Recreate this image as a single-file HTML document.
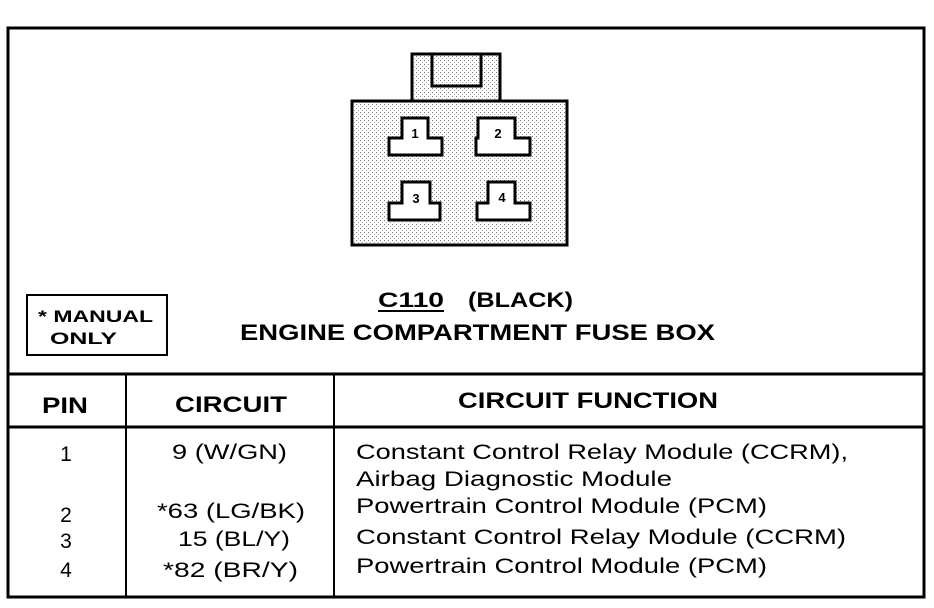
<!DOCTYPE html>
<html><head><meta charset="utf-8"><style>
body{margin:0;background:#fff;}
svg{display:block;}
text{font-family:"Liberation Sans",sans-serif;fill:#000;}
</style></head><body>
<svg width="934" height="608" viewBox="0 0 934 608" xmlns="http://www.w3.org/2000/svg">
<defs>
<pattern id="dots" width="4" height="4" patternUnits="userSpaceOnUse">
<rect width="4" height="4" fill="#fff"/><rect width="1" height="1" fill="#777"/><rect x="2" y="2" width="1" height="1" fill="#aaa"/>
</pattern>
</defs>
<rect x="8" y="28" width="916" height="569" fill="#fff" stroke="#000" stroke-width="3"/>
<rect x="412" y="54" width="88" height="47" fill="url(#dots)" stroke="#000" stroke-width="3"/>
<rect x="432" y="54" width="49" height="32" fill="url(#dots)" stroke="#000" stroke-width="3"/>
<rect x="352" y="101" width="215" height="144" fill="url(#dots)" stroke="#000" stroke-width="3"/>
<g fill="#fff" stroke="#000" stroke-width="3">
<path d="M402 118 H428 V138 H442 V155 H389 V138 H402 Z"/>
<path d="M478 118 H515 V138 H530 V155 H476 V138 H478 Z"/>
<path d="M402 182 H430 V203 H440 V220 H389 V203 H402 Z"/>
<path d="M488 182 H515 V203 H530 V220 H477 V203 H488 Z"/>
</g>
<g font-size="13" font-weight="bold" text-anchor="middle">
<text x="415" y="138">1</text><text x="498" y="138">2</text>
<text x="416" y="203">3</text><text x="502" y="202">4</text>
</g>
<rect x="27" y="295" width="140" height="60" fill="#fff" stroke="#000" stroke-width="2"/>
<text x="38" y="322" font-size="17" font-weight="bold" textLength="115" lengthAdjust="spacingAndGlyphs">* MANUAL</text>
<text x="50" y="344" font-size="17" font-weight="bold" textLength="67" lengthAdjust="spacingAndGlyphs">ONLY</text>
<text x="378" y="307" font-size="21" font-weight="bold" textLength="66" lengthAdjust="spacingAndGlyphs">C110</text>
<text x="468" y="307" font-size="21" font-weight="bold" textLength="105" lengthAdjust="spacingAndGlyphs">(BLACK)</text>
<line x1="378" y1="311" x2="444" y2="311" stroke="#000" stroke-width="2"/>
<text x="240" y="340" font-size="22" font-weight="bold" textLength="475" lengthAdjust="spacingAndGlyphs">ENGINE COMPARTMENT FUSE BOX</text>
<line x1="8" y1="374" x2="924" y2="374" stroke="#000" stroke-width="3"/>
<line x1="8" y1="427" x2="924" y2="427" stroke="#000" stroke-width="3"/>
<line x1="126" y1="374" x2="126" y2="597" stroke="#000" stroke-width="2"/>
<line x1="334" y1="374" x2="334" y2="597" stroke="#000" stroke-width="2"/>
<g font-size="22" font-weight="bold" lengthAdjust="spacingAndGlyphs">
<text x="42" y="413" textLength="46" lengthAdjust="spacingAndGlyphs">PIN</text>
<text x="175" y="412" textLength="112" lengthAdjust="spacingAndGlyphs">CIRCUIT</text>
<text x="458" y="408" textLength="260" lengthAdjust="spacingAndGlyphs">CIRCUIT FUNCTION</text>
</g>
<g font-size="21">
<text x="66" y="461" text-anchor="middle">1</text>
<text x="66" y="522" text-anchor="middle">2</text>
<text x="66" y="548" text-anchor="middle">3</text>
<text x="66" y="577" text-anchor="middle">4</text>
<text x="172" y="459" textLength="115" lengthAdjust="spacingAndGlyphs">9 (W/GN)</text>
<text x="157" y="518" textLength="148" lengthAdjust="spacingAndGlyphs">*63 (LG/BK)</text>
<text x="178" y="546" textLength="112" lengthAdjust="spacingAndGlyphs">15 (BL/Y)</text>
<text x="163" y="577" textLength="135" lengthAdjust="spacingAndGlyphs">*82 (BR/Y)</text>
<text x="356" y="459" textLength="492" lengthAdjust="spacingAndGlyphs">Constant Control Relay Module (CCRM),</text>
<text x="356" y="486" textLength="316" lengthAdjust="spacingAndGlyphs">Airbag Diagnostic Module</text>
<text x="356" y="513" textLength="411" lengthAdjust="spacingAndGlyphs">Powertrain Control Module (PCM)</text>
<text x="356" y="544" textLength="490" lengthAdjust="spacingAndGlyphs">Constant Control Relay Module (CCRM)</text>
<text x="356" y="573" textLength="411" lengthAdjust="spacingAndGlyphs">Powertrain Control Module (PCM)</text>
</g>
</svg>
</body></html>
